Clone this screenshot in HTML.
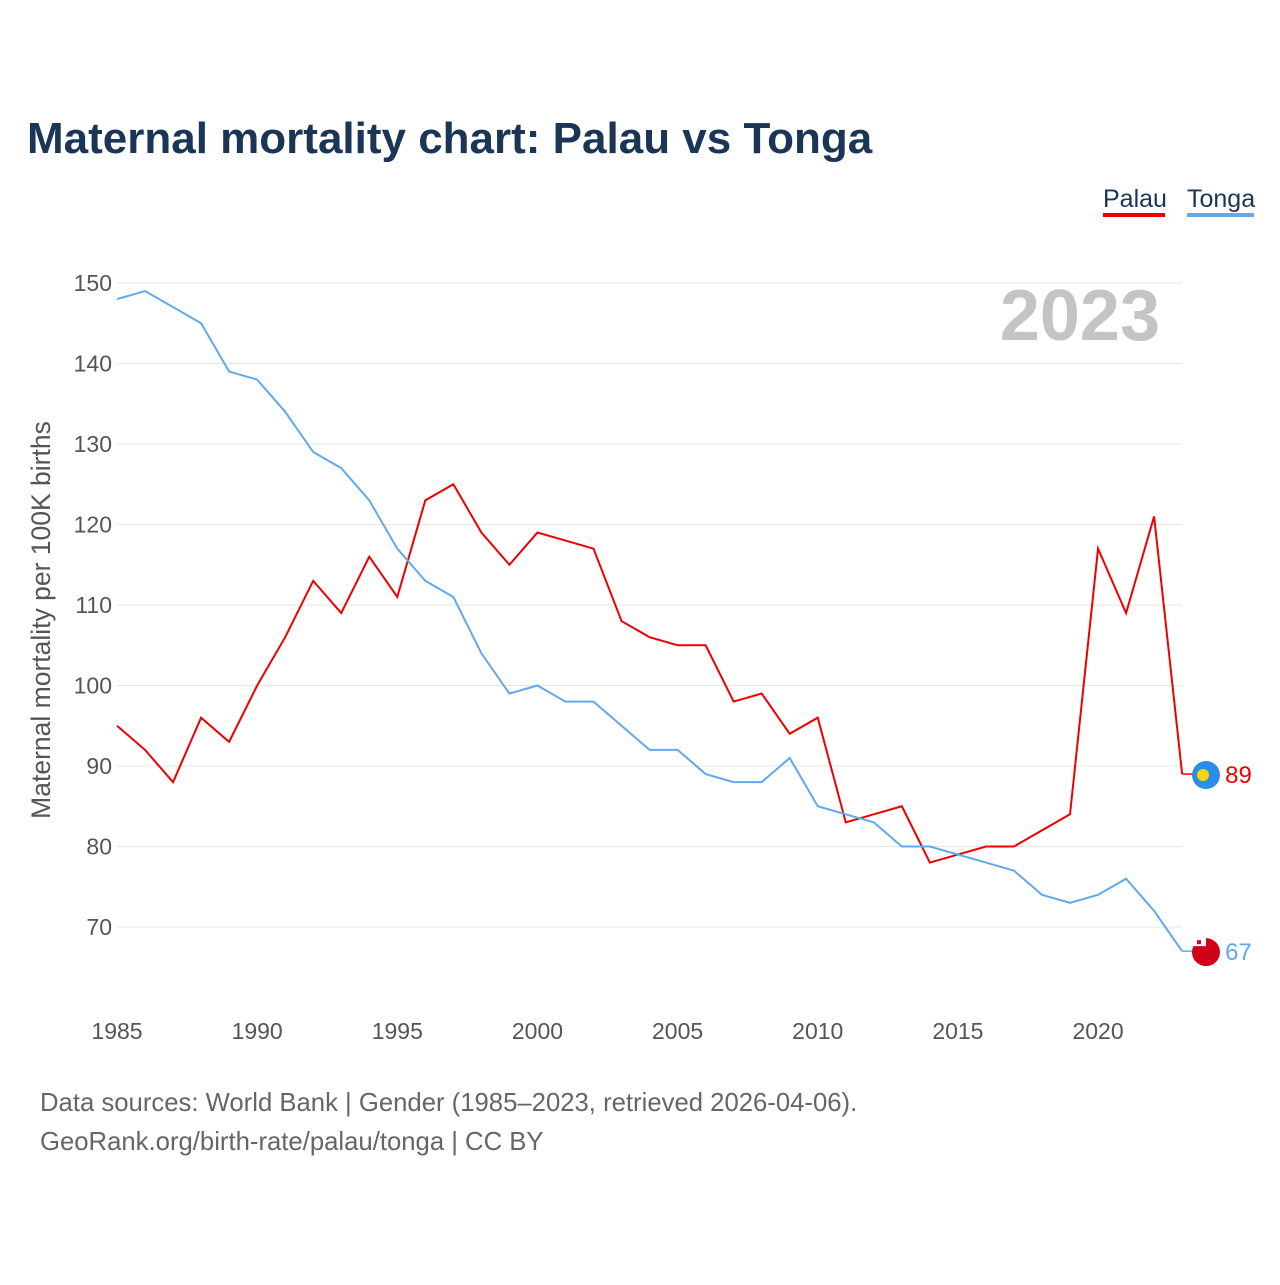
<!DOCTYPE html>
<html><head><meta charset="utf-8"><style>
body{margin:0;background:#fff;font-family:"Liberation Sans",sans-serif}
svg text{font-family:"Liberation Sans",sans-serif}
</style></head><body>
<svg id="chart" width="1280" height="1280" xmlns="http://www.w3.org/2000/svg">
<text x="27" y="153" font-size="44" font-weight="bold" fill="#1b3557">Maternal mortality chart: Palau vs Tonga</text>
<g>
<text x="1103" y="207" font-size="25" fill="#1b3557">Palau</text>
<rect x="1103" y="213" width="62" height="4" fill="#ee0000"/>
<text x="1187" y="207" font-size="25" fill="#1b3557">Tonga</text>
<rect x="1187" y="213" width="67" height="4" fill="#62a8ea"/>
</g>
<text x="1160" y="340" text-anchor="end" font-size="72" font-weight="bold" fill="#c4c4c4">2023</text>
<text transform="translate(50,620) rotate(-90)" text-anchor="middle" font-size="26.5" fill="#555">Maternal mortality per 100K births</text>
<g id="grid"></g><g id="series"></g>
<text x="40" y="1111" font-size="25.7" fill="#666">Data sources: World Bank | Gender (1985–2023, retrieved 2026-04-06).</text>
<text x="40" y="1150" font-size="25.7" fill="#666">GeoRank.org/birth-rate/palau/tonga | CC BY</text>
</svg>
<script>
const years=[];for(let y=1985;y<=2023;y++)years.push(y);
const palau=[95,92,88,96,93,100,106,113,109,116,111,123,125,119,115,119,118,117,108,106,105,105,98,99,94,96,83,84,85,78,79,80,80,82,84,117,109,121,89];
const tonga=[148,149,147,145,139,138,134,129,127,123,117,113,111,104,99,100,98,98,95,92,92,89,88,88,91,85,84,83,80,80,79,78,77,74,73,74,76,72,67];
const yTicks=[70,80,90,100,110,120,130,140,150];
const xTicks=[1985,1990,1995,2000,2005,2010,2015,2020];
const X=y=>117+(y-1985)*28.03;
const Y=v=>283+(150-v)*8.05;
const NS="http://www.w3.org/2000/svg";
const g=document.getElementById('grid'),s=document.getElementById('series');
function el(t,a,p){const e=document.createElementNS(NS,t);for(const k in a)e.setAttribute(k,a[k]);p.appendChild(e);return e;}
yTicks.forEach(v=>{
const l=el('line',{x1:117,x2:1182,y1:Y(v),y2:Y(v),stroke:'#e6e6e6','stroke-width':1},g);


const t=el('text',{x:112,y:Y(v)+8,'text-anchor':'end','font-size':23,fill:'#555'},g);t.textContent=v;


});
xTicks.forEach(v=>{
const t=el('text',{x:X(v),y:1039,'text-anchor':'middle','font-size':23,fill:'#555'},g);t.textContent=v;


});
function line(data,color,name){
const p=el('polyline',{points:data.map((v,i)=>X(years[i])+','+Y(v)).join(' '),fill:'none',stroke:color,'stroke-width':2},s);


const last=data[data.length-1],lx=X(years[years.length-1]);
el('line',{x1:lx,x2:lx+10,y1:Y(last),y2:Y(last),stroke:color,'stroke-width':1.5},s);
const t=el('text',{x:lx+43,y:Y(last)+9,'font-size':24,fill:color},s);t.textContent=last;


return Y(last);
}
const py=line(palau,'#ee0000','palau');
const ty=line(tonga,'#62a8ea','tonga');
const f1=el('circle',{cx:1206,cy:py+1,r:14,fill:'#2e8ce6'},s);


el('circle',{cx:1203,cy:py+1,r:6,fill:'#f5d80a'},s);
const f2=el('circle',{cx:1206,cy:ty+1,r:14,fill:'#d0021b'},s);


el('rect',{x:1192,y:ty-13,width:14,height:8,fill:'#fff'},s);
el('rect',{x:1197,y:ty-11,width:4,height:4,fill:'#d0021b'},s);
</script>
</body></html>
